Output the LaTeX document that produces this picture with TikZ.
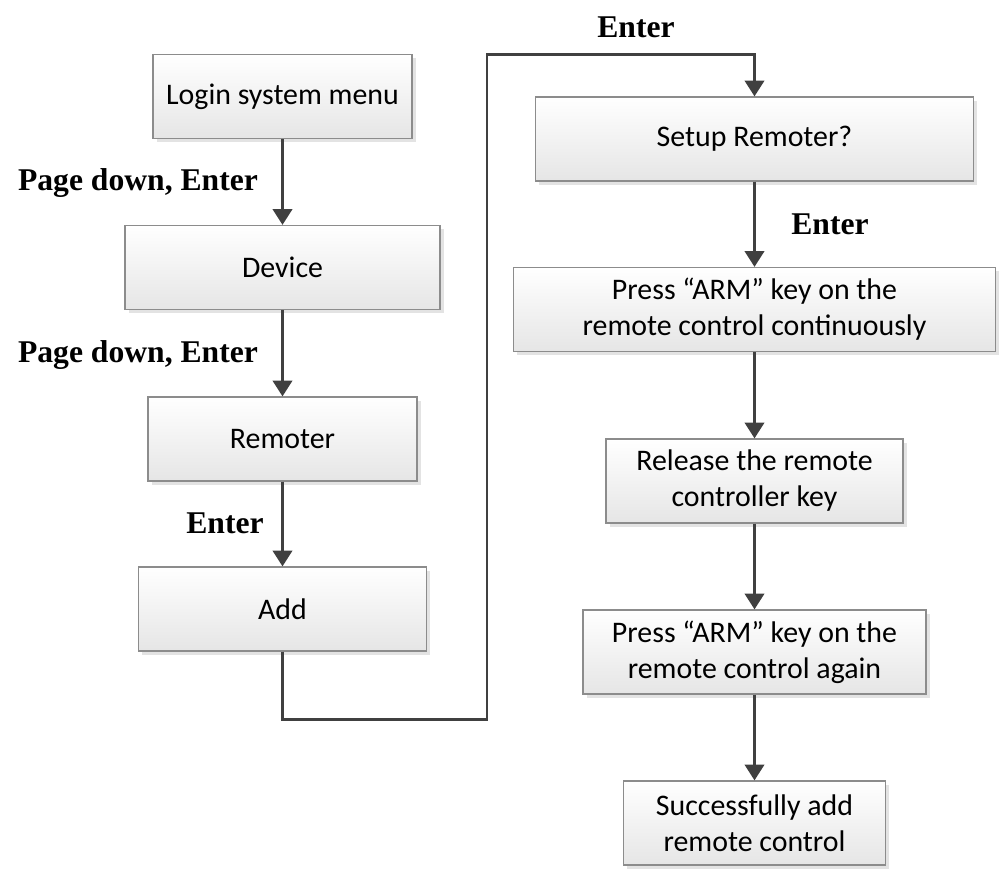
\documentclass[tikz,border=0pt]{standalone}
\usepackage{fontspec}
\setmainfont{Carlito}
\newfontfamily\lblfont{Liberation Serif}
\usepackage{tikz}
\usetikzlibrary{%
	arrows.meta,%
	shadows
}

\begin{document}
\begin{tikzpicture}[>={Triangle[length=9pt,width=11pt]},
	stepbox/.style={draw=black!45, line width=0.7pt, top color=white, bottom color=black!10,
		drop shadow={shadow xshift=2pt, shadow yshift=-2pt, fill=black!18, opacity=0.6},
		minimum height=1.68cm, align=center, font=\fontsize{17}{20.5}\selectfont},
	lbl/.style={font=\lblfont\bfseries\fontsize{18}{20}\selectfont},
	flow/.style={draw=black!75, line width=1.7pt}]
				% frame of the picture
				\useasboundingbox (0,0) rectangle (20,-17.48);
				% left column
				\node[stepbox, minimum width=5.18cm] (login) at (5.65,-1.93) {Login system menu};
				\node[stepbox, minimum width=6.3cm] (device) at (5.65,-5.35) {Device};
				\node[stepbox, minimum width=5.38cm] (remoter) at (5.65,-8.78) {Remoter};
				\node[stepbox, minimum width=5.76cm] (add) at (5.65,-12.18) {Add};
				% right column
				\node[stepbox, minimum width=8.76cm] (setup) at (15.09,-2.78) {Setup Remoter?};
				\node[stepbox, minimum width=9.64cm] (press1) at (15.09,-6.19) {Press “ARM” key on the\\remote control continuously};
				\node[stepbox, minimum width=5.94cm] (release) at (15.09,-9.62) {Release the remote\\controller key};
				\node[stepbox, minimum width=6.86cm] (press2) at (15.09,-13.04) {Press “ARM” key on the\\remote control again};
				\node[stepbox, minimum width=5.24cm] (success) at (15.09,-16.46) {Successfully add\\remote control};
				% arrows
				\foreach \a/\b in {login/device,device/remoter,remoter/add,setup/press1,press1/release,release/press2,press2/success}
				\draw[flow,->] (\a) -- (\b);
				\coordinate (c1) at (5.65,-14.38);
				\coordinate (c2) at (9.74,-14.38);
				\coordinate (c3) at (9.74,-1.08);
				\coordinate (c4) at (15.09,-1.08);
				\draw[flow,->] (add) -- (c1) -- (c2) -- (c3) -- (c4) -- (setup);
				% key labels
				\node[lbl] (key1) at (2.76,-3.66) {Page down, Enter};
				\node[lbl] (key2) at (2.76,-7.1) {Page down, Enter};
				\node[lbl] (key3) at (4.5,-10.46) {Enter};
				\node[lbl] (key4) at (12.72,-0.54) {Enter};
				\node[lbl] (key5) at (16.6,-4.48) {Enter};
			\end{tikzpicture}
\end{document}
